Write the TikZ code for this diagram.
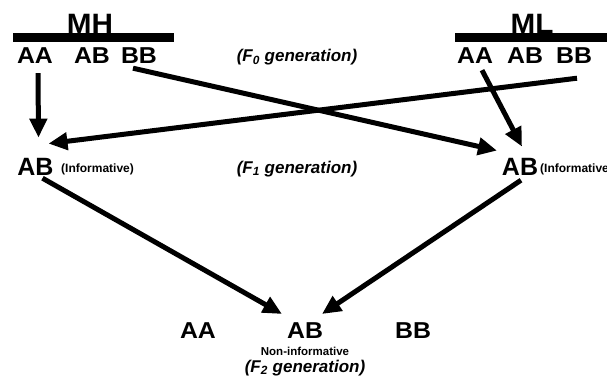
\documentclass[tikz,border=0pt]{standalone}
\usepackage{fontspec}
\setmainfont{Liberation Sans}
\usetikzlibrary{arrows.meta}

\begin{document}
\begin{tikzpicture}[x=1pt,y=-1pt,
        parent/.style={font=\fontsize{28}{28}\selectfont\bfseries,inner sep=0pt,anchor=base,xscale=1.06},
        geno/.style={font=\fontsize{23}{23}\selectfont\bfseries,inner sep=0pt,anchor=base,xscale=1.08},
        biggeno/.style={font=\fontsize{25}{25}\selectfont\bfseries,inner sep=0pt,anchor=base},
        gen/.style={font=\fontsize{17}{17}\selectfont\bfseries\itshape,inner sep=0pt,anchor=base},
        note/.style={font=\fontsize{12}{12}\selectfont\bfseries,inner sep=0pt,anchor=base west},
        bar/.style={line width=9pt},
        arr/.style={line width=5pt,-{Triangle[length=19pt,width=17pt]}}]
        \useasboundingbox (0,0) rectangle (607,377);
        \draw[bar] ( 13,37.5) -- (174,37.5);
        \draw[bar] (455,37.5) -- (607,37.5);
        \node[parent] (mh) at ( 90,34) {MH};
        \node[parent] (ml) at (532,34) {ML};
        \node[geno] (mhAA) at ( 35,64) {AA};
        \node[geno] (mhAB) at ( 92,64) {AB};
        \node[geno] (mhBB) at (139,64) {BB};
        \node[geno] (mlAA) at (475,64) {AA};
        \node[geno] (mlAB) at (525,64) {AB};
        \node[geno] (mlBB) at (574,64) {BB};
        \node[gen] (f0) at (297,62) {(F\textsubscript{0} generation)};
        \node[biggeno] (lF1) at (35.5,175) {AB};
        \node[note] (lInf) at ( 61,172) {(Informative)};
        \node[biggeno] (rF1) at (520,175) {AB};
        \node[note] (rInf) at (540,172) {(Informative)};
        \node[gen] (f1) at (297,173) {(F\textsubscript{1} generation)};
        \node[geno] (f2AA) at (198,338) {AA};
        \node[geno] (f2AB) at (305,338) {AB};
        \node[geno] (f2BB) at (413,338) {BB};
        \node[font=\fontsize{11.5}{11.5}\selectfont\bfseries,inner sep=0pt,anchor=base] (nonInf) at (305,355) {Non-informative};
        \node[gen] (f2) at (305,372) {(F\textsubscript{2} generation)};
        \draw[arr] ([xshift=3pt,yshift=-9pt]mhAA.south) -- ([xshift=3pt,yshift=20pt]lF1.north);
        \draw[arr] ([xshift=3pt,yshift=-14pt]mlBB.south) -- ([xshift=13pt,yshift=14pt]lF1.north);
        \draw[arr] ([xshift=-6pt,yshift=-4pt]mhBB.south) -- ([xshift=-23pt,yshift=7pt]rF1.north);
        \draw[arr] ([xshift=7pt,yshift=-6pt]mlAA.south) -- ([xshift=2pt,yshift=11pt]rF1.north);
        \draw[arr] ([xshift=7pt,yshift=-3pt]lF1.south) -- ([xshift=-23pt,yshift=8pt]f2AB.north);
        \draw[arr] ([xshift=1pt,yshift=-5pt]rF1.south) -- ([xshift=17pt,yshift=8pt]f2AB.north);
\end{tikzpicture}
\end{document}
